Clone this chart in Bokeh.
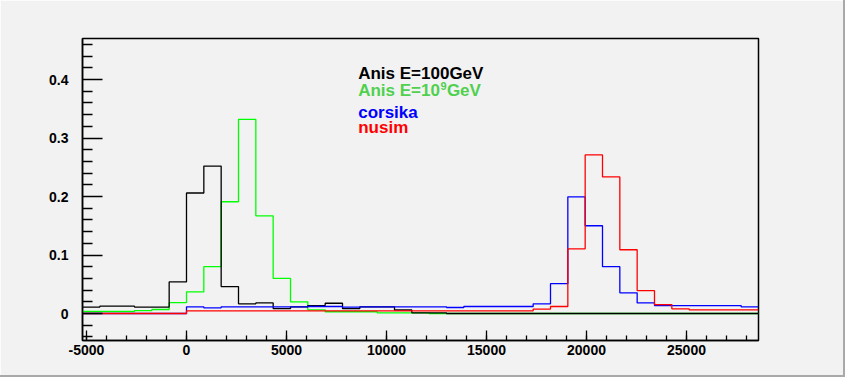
from bokeh.plotting import figure
from bokeh.models import Range1d, FixedTicker, NumeralTickFormatter, Label
from bokeh.embed import file_html
from bokeh.resources import INLINE

# ---- data (39 bins, width 866.67, from -5200 to 28600) ----
x_min = -5200.0
x_max = 28600.0
n_bins = 39

anis_100gev = [0.011, 0.0125, 0.0125, 0.011, 0.011, 0.054, 0.206, 0.252, 0.046, 0.0165,
               0.018, 0.0085, 0.0115, 0.0135, 0.0175, 0.0085, 0.0115, 0.0115, 0.006, 0.0012,
               0.0012, 0, 0, 0, 0, 0, 0, 0, 0, 0,
               0, 0, 0, 0, 0, 0, 0, 0, 0]
anis_1e9gev = [0.0034, 0.0034, 0.0034, 0.005, 0.0068, 0.0185, 0.037, 0.080, 0.191, 0.332,
               0.167, 0.060, 0.020, 0.0063, 0.003, 0.003, 0.003, 0.0012, 0.0012, 0.0012,
               0.0, 0, 0, 0, 0, 0, 0, 0, 0, 0,
               0, 0, 0, 0, 0, 0, 0, 0, 0]
corsika = [0, 0, 0, 0, 0, 0, 0.0115, 0.0097, 0.0115, 0.0115,
           0.0115, 0.0115, 0.0115, 0.012, 0.012, 0.011, 0.0115, 0.0115, 0.0115, 0.0115,
           0.0115, 0.0103, 0.012, 0.012, 0.012, 0.012, 0.0165, 0.051, 0.1995, 0.150,
           0.080, 0.0354, 0.018, 0.0135, 0.0135, 0.0135, 0.0135, 0.0135, 0.0115]
nusim = [0, 0, 0, 0, 0, 0, 0.0045, 0.0045, 0.0045, 0.0045,
         0.0045, 0.0045, 0.0045, 0.0045, 0.0045, 0.0045, 0.0045, 0.0045, 0.0045, 0.0045,
         0.0045, 0.0045, 0.0045, 0.0045, 0.0045, 0.0045, 0.0075, 0.012, 0.1105, 0.271,
         0.2335, 0.109, 0.039, 0.0152, 0.008, 0.0063, 0.0063, 0.0063, 0.0063]

x_major_ticks = [-5000, 0, 5000, 10000, 15000, 20000, 25000]
x_minor_ticks = list(range(-5000, 28001, 1000))
y_major_ticks = [0, 0.1, 0.2, 0.3, 0.4]
y_tick_labels = ["0", "0.1", "0.2", "0.3", "0.4"]
y_minor_ticks = [-0.04, -0.02, 0.02, 0.04, 0.06, 0.08, 0.12, 0.14, 0.16, 0.18,
                 0.22, 0.24, 0.26, 0.28, 0.32, 0.34, 0.36, 0.38, 0.42, 0.44, 0.46]

bin_w = (x_max - x_min) / n_bins
edges = [x_min + i * bin_w for i in range(n_bins + 1)]

BG = "#f2f2f2"
FONT = "Liberation Sans"

p = figure(frame_width=676, frame_height=302,
           x_range=Range1d(x_min, x_max), y_range=Range1d(-0.04615, 0.4701),
           output_backend="svg", toolbar_location=None,
           min_border_left=82, min_border_right=85, min_border_top=38, min_border_bottom=35)
p.styles = {"border-right": "2px solid #a9a9a9", "border-bottom": "2px solid #a9a9a9"}
p.background_fill_color = BG
p.border_fill_color = BG
p.outline_line_color = "black"
p.outline_line_width = 1.5
p.grid.visible = False

# x axis
xa = p.xaxis[0]
xa.ticker = FixedTicker(ticks=x_major_ticks, minor_ticks=x_minor_ticks)
xa.formatter = NumeralTickFormatter(format="0")
xa.major_tick_in = 10
xa.major_tick_out = 0
xa.minor_tick_in = 5
xa.minor_tick_out = 0
xa.major_label_standoff = 4
xa.major_label_text_font = FONT
xa.major_label_text_font_style = "bold"
xa.major_label_text_font_size = "14px"
xa.major_label_text_color = "black"
xa.axis_line_color = "black"
xa.axis_line_width = 1.5
xa.major_tick_line_color = "black"
xa.major_tick_line_width = 1.3
xa.minor_tick_line_color = "black"
xa.minor_tick_line_width = 1.3

# y axis
ya = p.yaxis[0]
ya.ticker = FixedTicker(ticks=y_major_ticks, minor_ticks=y_minor_ticks)
ya.major_label_overrides = {t: l for t, l in zip(y_major_ticks, y_tick_labels)}
ya.major_tick_in = 20
ya.major_tick_out = 0
ya.minor_tick_in = 10
ya.minor_tick_out = 0
ya.major_label_standoff = 14
ya.major_label_text_font = FONT
ya.major_label_text_font_style = "bold"
ya.major_label_text_font_size = "14px"
ya.major_label_text_color = "black"
ya.axis_line_color = "black"
ya.axis_line_width = 1.5
ya.major_tick_line_color = "black"
ya.major_tick_line_width = 1.3
ya.minor_tick_line_color = "black"
ya.minor_tick_line_width = 1.3

series = [
    (anis_1e9gev, "#00ff00"),
    (anis_100gev, "#000000"),
    (corsika, "#0000ff"),
    (nusim, "#ff0000"),
]
for vals, col in series:
    ys = list(vals) + [vals[-1]]
    p.step(edges, ys, mode="after", line_color=col, line_width=1.3)

# legend-like texts
def lab(x, y, text, color, size="17px"):
    p.add_layout(Label(x=x, y=y, text=text, text_color=color, text_font=FONT,
                       text_font_style="bold", text_font_size=size,
                       text_baseline="alphabetic", text_align="left"))

lab(8585, 0.4097, "Anis E=100GeV", "black")
lab(8585, 0.381, "Anis E=10", "#4fd04f")
lab(12700, 0.3897, "9", "#4fd04f", size="11px")
lab(13020, 0.381, "GeV", "#4fd04f")
lab(8585, 0.344, "corsika", "#0000ff")
lab(8585, 0.3174, "nusim", "#ff0000")

open("out.html", "w").write(file_html(p, INLINE))
